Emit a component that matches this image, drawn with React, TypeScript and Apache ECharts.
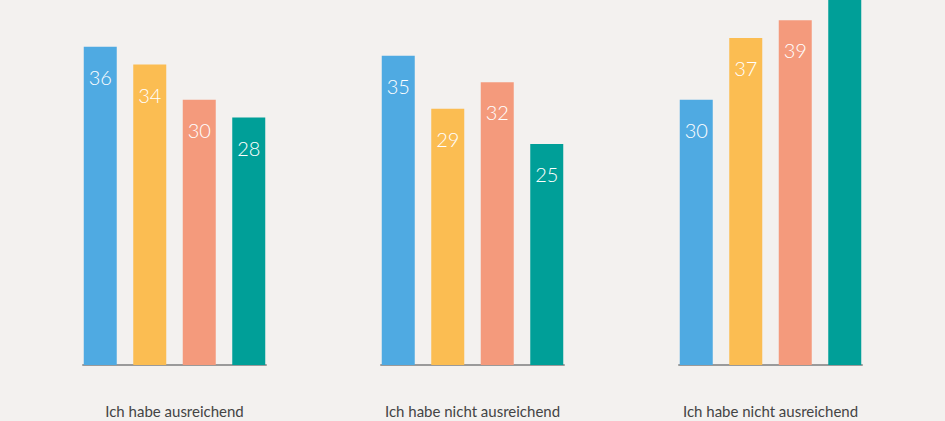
import * as echarts from "echarts";
import React, { useEffect, useRef } from "react";

const categories = ["Ich habe ausreichend", "Ich habe nicht ausreichend", "Ich habe nicht ausreichend"];
const seriesValues = [
	[36, 35, 30],
	[34, 29, 37],
	[30, 32, 39],
	[28, 25, 46],
];
const colors = ["#4faae2", "#fbbd52", "#f49a7c", "#009f98"];
const yMax = 41.3;

export default function App() {
	const ref = useRef<HTMLDivElement>(null);

	useEffect(() => {
		const chart = echarts.init(ref.current, null, { renderer: "svg" });
		const lefts = [83, 381, 679];
		const grids = lefts.map((left) => ({ left, width: 183, top: 0, bottom: 56 }));
		const xAxis = categories.map((c, i) => ({
			type: "category",
			gridIndex: i,
			data: [c],
			axisTick: { show: false },
			axisLine: { lineStyle: { color: "#9a9a9a", width: 2 } },
			axisLabel: { color: "#444", fontSize: 15, fontFamily: "Lato", margin: 38 },
		}));
		const yAxis = categories.map((_, i) => ({
			type: "value",
			gridIndex: i,
			min: 0,
			max: yMax,
			show: false,
		}));
		const series: any[] = [];
		categories.forEach((_, g) => {
			seriesValues.forEach((vals, s) => {
				series.push({
					type: "bar",
					xAxisIndex: g,
					yAxisIndex: g,
					data: [vals[g]],
					barWidth: 33,
					barGap: "50%",
					clip: true,
					itemStyle: { color: colors[s] },
					label: {
						show: vals[g] <= yMax,
						position: "insideTop",
						distance: 20,
						color: "#fff",
						fontSize: 20,
						fontFamily: "Lato",
						fontWeight: 300,
					},
				});
			});
		});
		chart.setOption({
			animation: false,
			backgroundColor: "#f3f1ef",
			grid: grids,
			xAxis,
			yAxis,
			series,
		});
		return () => chart.dispose();
	}, []);

	return <div ref={ref} style={{ position: "fixed", left: 0, top: 0, width: 945, height: 421 }} />;
}
